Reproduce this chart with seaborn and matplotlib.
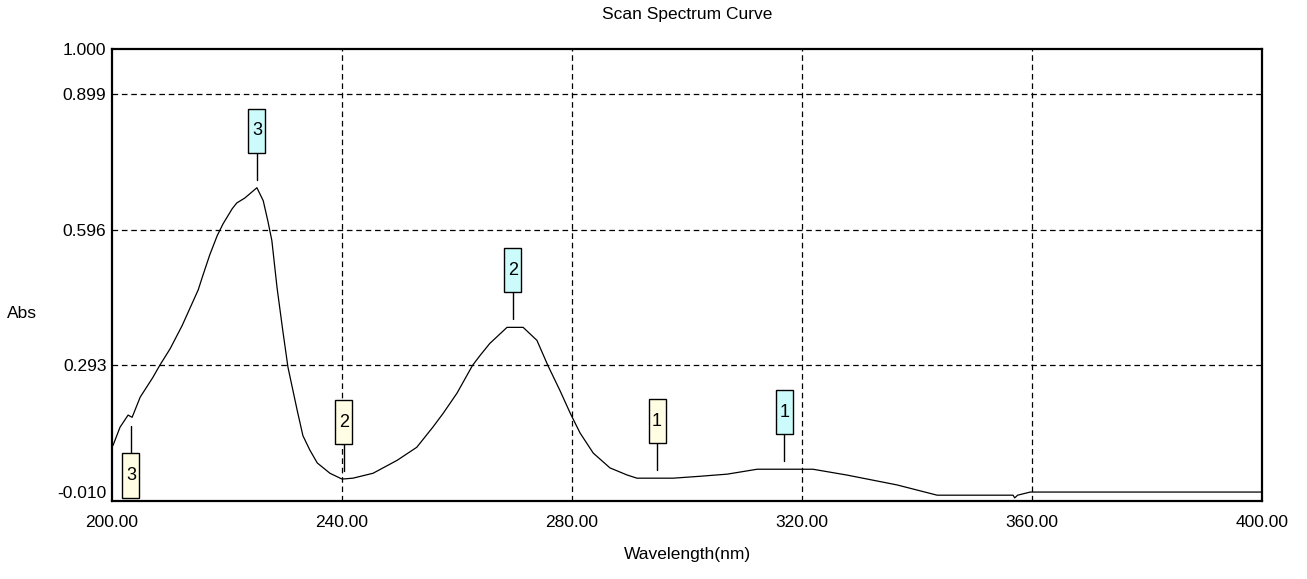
import numpy as np
import pandas as pd
import matplotlib
matplotlib.use("Agg")
import matplotlib.pyplot as plt
import matplotlib.transforms as mtransforms
from matplotlib.patches import Rectangle
import seaborn as sns

# ---- data ----
wavelength = [200.0, 200.2, 201.4, 202.8, 203.5, 204.9, 207.1, 208.3, 210.1,
              212.2, 213.6, 215.0, 215.7, 217.0, 218.3, 219.3, 220.9, 221.7, 223.1,
              225.2, 226.3, 227.1, 227.8, 228.7, 229.7, 230.6, 231.5, 232.2, 233.2,
              234.4, 235.7, 237.9, 240.0, 241.9, 245.4, 249.6, 253.0, 255.8, 257.6,
              260.0, 262.7, 264.0, 265.7, 268.7, 271.5, 273.9, 275.8, 277.9, 279.7,
              281.4, 283.7, 286.6, 289.6, 291.3, 297.6, 302.0, 307.0, 312.2, 321.9,
              327.8, 336.5, 343.5, 356.7, 357.0, 357.5, 359.7, 400.0]
absorbance = [0.112, 0.115, 0.155, 0.182, 0.177, 0.222, 0.266, 0.293, 0.330,
              0.382, 0.422, 0.462, 0.490, 0.540, 0.583, 0.609, 0.643, 0.656, 0.667,
              0.690, 0.661, 0.616, 0.572, 0.467, 0.371, 0.289, 0.235, 0.193, 0.136,
              0.104, 0.075, 0.052, 0.039, 0.041, 0.052, 0.081, 0.110, 0.155, 0.186,
              0.231, 0.293, 0.315, 0.342, 0.378, 0.378, 0.349, 0.293, 0.237, 0.186,
              0.142, 0.097, 0.064, 0.048, 0.041, 0.041, 0.045, 0.050, 0.061, 0.061,
              0.048, 0.026, 0.003, 0.003, -0.003, 0.003, 0.010, 0.010]

peak_labels = ["3", "2", "1"]
peak_wl = [225.2, 269.7, 316.9]
peak_abs = [0.690, 0.378, 0.061]

valley_labels = ["2", "1", "3"]
valley_wl = [240.3, 294.8, 203.3]
valley_abs = [0.039, 0.041, 0.177]
valley_below = [False, False, True]

x_ticks = [200, 240, 280, 320, 360, 400]
y_ticks = [-0.010, 0.293, 0.596, 0.899, 1.000]

df = pd.DataFrame({"Wavelength": wavelength, "Abs": absorbance})

sns.set_theme(style="white")
plt.rcParams["font.family"] = ["Liberation Sans Narrow", "Liberation Sans", "DejaVu Sans"]

W, H, DPI = 1307, 579, 100
fig = plt.figure(figsize=(W / DPI, H / DPI), dpi=DPI)
ax = fig.add_axes([112 / W, 1 - 501 / H, 1150 / W, 452 / H])

sns.lineplot(data=df, x="Wavelength", y="Abs", ax=ax, color="black",
             linewidth=0.9, estimator=None, sort=False)

ax.set_xlim(200, 400)
ax.set_ylim(-0.010, 1.000)
ax.set_xticks(x_ticks)
ax.set_xticklabels([f"{v:.2f}" for v in x_ticks])
ax.set_yticks(y_ticks)
ax.set_yticklabels([f"{v:.3f}" for v in y_ticks])
ax.tick_params(axis="both", labelsize=12.5, colors="black", direction="in", length=5,
               width=1.0)
ax.tick_params(axis="x", pad=10)
ax.tick_params(axis="y", pad=4)
ax.get_yticklabels()[0].set_va("bottom")

for v in x_ticks[1:-1]:
    ax.axvline(v, color="black", linewidth=0.9, linestyle=(0, (4.5, 3.0)), zorder=1)
for v in y_ticks[1:-1]:
    ax.axhline(v, color="black", linewidth=0.9, linestyle=(0, (4.5, 3.0)), zorder=1)

for s in ax.spines.values():
    s.set_color("black")
    s.set_linewidth(1.6)

ax.set_xlabel("Wavelength(nm)", fontsize=12.5, color="black")
ax.xaxis.set_label_coords(0.5, -54 / 452)
ax.xaxis.label.set_va("center")
ax.set_ylabel("Abs", fontsize=12.5, color="black", rotation=0)
ax.yaxis.set_label_coords(-90 / 1150, 188 / 452)
ax.yaxis.label.set_va("center")
ax.yaxis.label.set_ha("center")
ax.set_title("Scan Spectrum Curve", fontsize=12.5, color="black", pad=0,
             y=1 + 34 / 452, va="center")


def marker(label, wl, ab, fc, below=False):
    base = mtransforms.Affine2D() + mtransforms.ScaledTranslation(wl, ab, ax.transData)
    if below:
        gap, stem, bh = -9, -27, -45
    else:
        gap, stem, bh = 8, 27, 44
    ax.plot([0, 0], [gap, gap + stem], color="black", linewidth=1.0,
            transform=base, clip_on=False, zorder=5)
    y0 = gap + stem
    rect = Rectangle((-8.5, min(y0, y0 + bh)), 17, abs(bh), facecolor=fc,
                     edgecolor="black", linewidth=1.0, transform=base,
                     clip_on=False, zorder=6)
    ax.add_patch(rect)
    ax.text(0, y0 + bh / 2, label, transform=base, ha="center", va="center",
            fontsize=13, color="black", zorder=7)


for lab, wl, ab in zip(peak_labels, peak_wl, peak_abs):
    marker(lab, wl, ab, "#ccfbfb")
for lab, wl, ab, bl in zip(valley_labels, valley_wl, valley_abs, valley_below):
    marker(lab, wl, ab, "#fffee4", below=bl)

fig.savefig("out.png", dpi=DPI, facecolor="white")
